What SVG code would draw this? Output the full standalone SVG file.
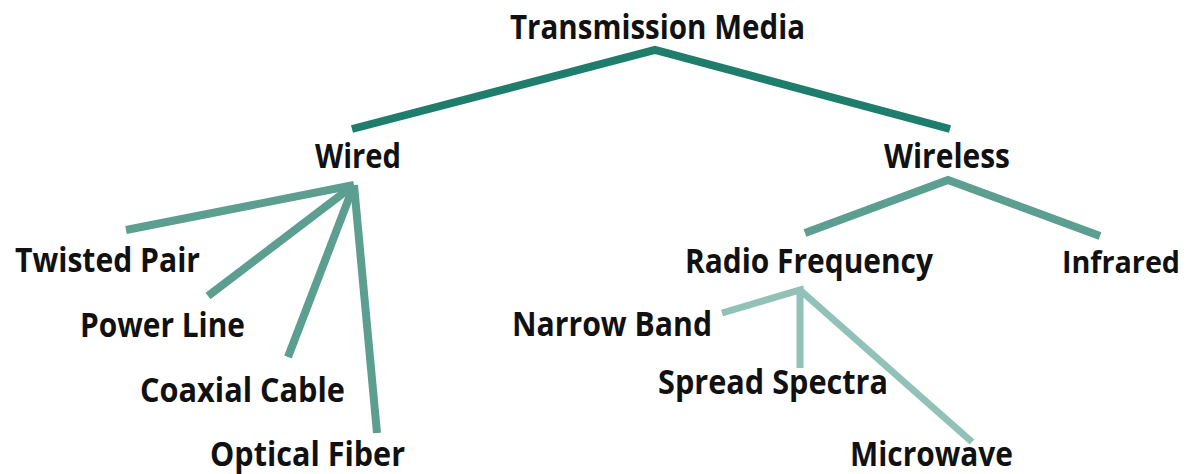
<svg xmlns="http://www.w3.org/2000/svg" width="1195" height="474" viewBox="0 0 1195 474">
<style>
text{font-family:"Open Sans","Noto Sans","Liberation Sans",sans-serif;font-weight:700;font-size:34px;fill:#111;}
.l1{stroke:#1f7d6b;stroke-width:8;fill:none;}
.l2{stroke:#5c9e90;stroke-width:8;fill:none;}
.l3{stroke:#91c1b7;stroke-width:7;fill:none;}
</style>
<rect width="1195" height="474" fill="#fff"/>
<g id="connectors">
<polyline class="l1" points="352,129 655,50 950,129"/>
<line class="l2" x1="354" y1="185" x2="126" y2="230"/>
<line class="l2" x1="354" y1="185" x2="208" y2="296"/>
<line class="l2" x1="354" y1="185" x2="288" y2="357"/>
<line class="l2" x1="354" y1="185" x2="377" y2="433"/>
<polyline class="l2" points="805,233 948,180 1100,236"/>
<polyline class="l3" points="722,313 800,290 800,368"/>
<line class="l3" x1="800" y1="290" x2="972" y2="442"/>
</g>
<g id="n-transmission"><text x="510" y="39" textLength="295" lengthAdjust="spacingAndGlyphs">Transmission Media</text></g>
<g id="n-wired"><text x="315" y="168" textLength="86" lengthAdjust="spacingAndGlyphs">Wired</text></g>
<g id="n-wireless"><text x="884" y="168" textLength="126" lengthAdjust="spacingAndGlyphs">Wireless</text></g>
<g id="n-twisted"><text x="15" y="272" textLength="185" lengthAdjust="spacingAndGlyphs">Twisted Pair</text></g>
<g id="n-power"><text x="80" y="337" textLength="165" lengthAdjust="spacingAndGlyphs">Power Line</text></g>
<g id="n-coax"><text x="140" y="402" textLength="205" lengthAdjust="spacingAndGlyphs">Coaxial Cable</text></g>
<g id="n-optical"><text x="210" y="466" textLength="195" lengthAdjust="spacingAndGlyphs">Optical Fiber</text></g>
<g id="n-radio"><text x="685" y="273" textLength="248" lengthAdjust="spacingAndGlyphs">Radio Frequency</text></g>
<g id="n-infrared"><text x="1062" y="273" style="font-size:31px" textLength="118" lengthAdjust="spacingAndGlyphs">Infrared</text></g>
<g id="n-narrow"><text x="512" y="336" textLength="200" lengthAdjust="spacingAndGlyphs">Narrow Band</text></g>
<g id="n-spread"><text x="658" y="394" textLength="230" lengthAdjust="spacingAndGlyphs">Spread Spectra</text></g>
<g id="n-microwave"><text x="850" y="466" textLength="163" lengthAdjust="spacingAndGlyphs">Microwave</text></g>
</svg>
